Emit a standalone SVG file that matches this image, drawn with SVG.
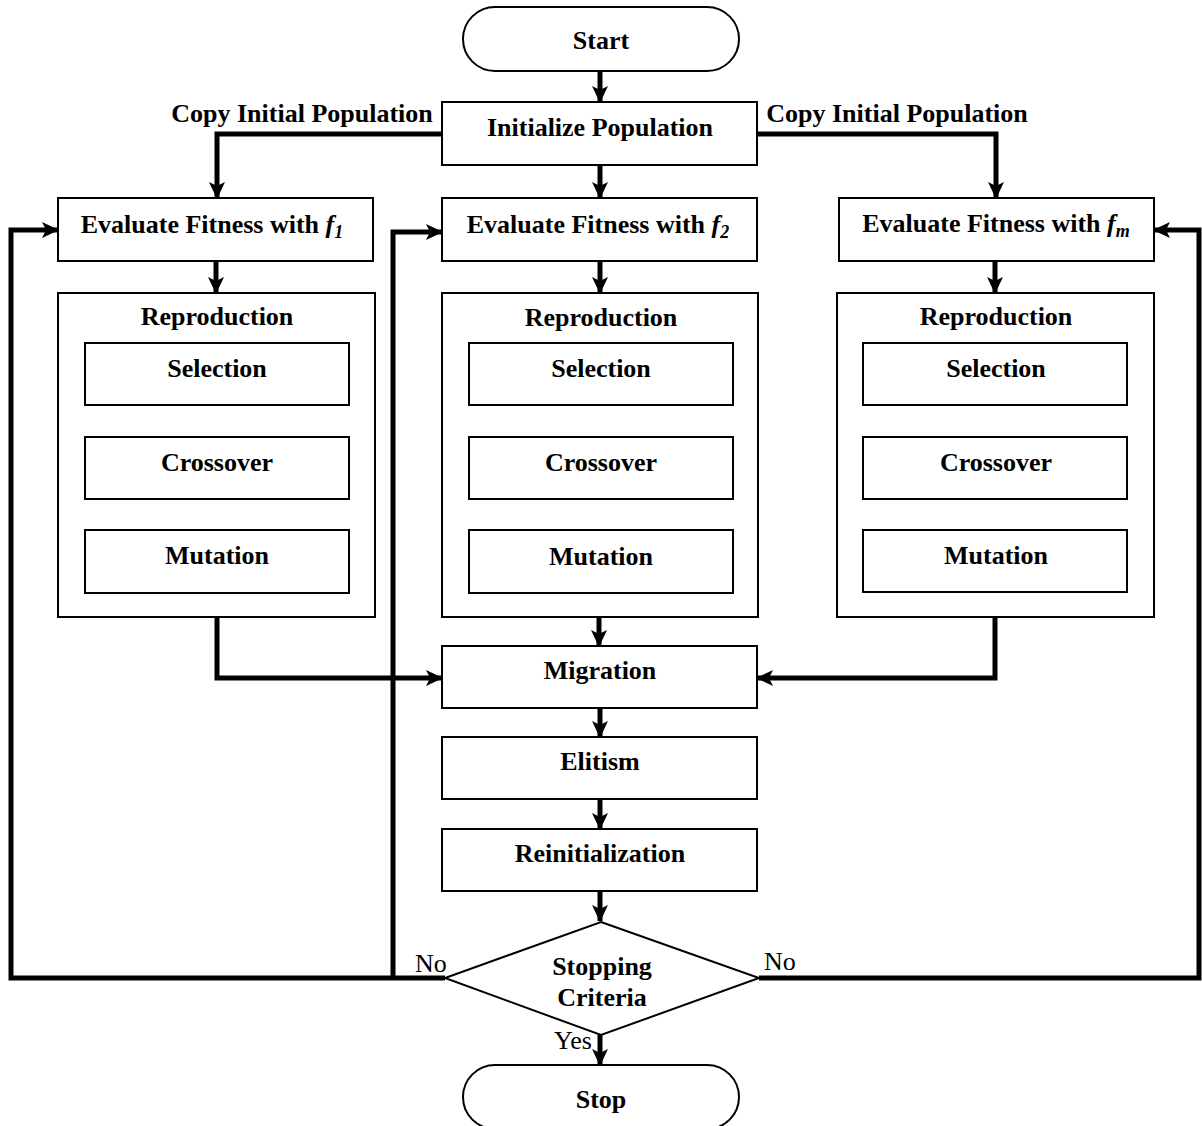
<svg xmlns="http://www.w3.org/2000/svg" width="1202" height="1126" viewBox="0 0 1202 1126">
<defs>
<style>
.box{fill:#fff;stroke:#000;stroke-width:2}
.t{font-family:"Liberation Serif","Times New Roman",serif;font-weight:bold;font-size:26px;text-anchor:middle;fill:#000}
.lbl{font-family:"Liberation Serif","Times New Roman",serif;font-size:26px;fill:#000}
.ca{fill:none;stroke:#000;stroke-width:5;marker-end:url(#ah)}
.it{font-style:italic}
</style>
<marker id="ah" markerUnits="userSpaceOnUse" markerWidth="18" markerHeight="16" refX="16" refY="8" orient="auto">
<path d="M0,0 L17,8 L0,16 L4,8 z" fill="#000"/>
</marker>
</defs>
<rect width="1202" height="1126" fill="#fff"/>

<g id="connectors">
<path class="ca" d="M600,71 V102"/>
<path class="ca" d="M600,165 V198"/>
<path class="ca" d="M443,134 H217 V198"/>
<path class="ca" d="M757,134 H996 V198"/>
<path class="ca" d="M216,261 V293"/>
<path class="ca" d="M600,261 V293"/>
<path class="ca" d="M995,261 V293"/>
<path class="ca" d="M216,405 V437"/>
<path class="ca" d="M216,499 V530"/>
<path class="ca" d="M600,405 V437"/>
<path class="ca" d="M600,499 V530"/>
<path class="ca" d="M995,405 V437"/>
<path class="ca" d="M995,499 V530"/>
<path class="ca" d="M217,593 V678 H442"/>
<path class="ca" d="M995,593 V678 H757"/>
<path class="ca" d="M599,593 V646"/>
<path class="ca" d="M600,708 V737"/>
<path class="ca" d="M600,799 V829"/>
<path class="ca" d="M600,891 V921"/>
<path class="ca" d="M600,1035 V1065"/>
<path class="ca" d="M445,978 H11 V230 H58"/>
<path class="ca" d="M393,978 V232 H442"/>
<path class="ca" d="M759,978 H1199 V230 H1154"/>
</g>

<g id="start">
<rect class="box" x="463" y="7" width="276" height="64" rx="32" ry="32"/>
<text class="t" x="601" y="49">Start</text>
</g>
<g id="init">
<rect class="box" x="442" y="102" width="315" height="63"/>
<text class="t" x="600" y="136">Initialize Population</text>
</g>
<g id="copy-left">
<text class="t" x="302" y="122">Copy Initial Population</text>
</g>
<g id="copy-right">
<text class="t" x="897" y="122">Copy Initial Population</text>
</g>

<g id="eval1">
<rect class="box" x="58" y="198" width="315" height="63"/>
<text class="t" x="212" y="233">Evaluate Fitness with <tspan class="it">f</tspan><tspan class="it" font-size="18" dy="5">1</tspan></text>
</g>
<g id="eval2">
<rect class="box" x="442" y="198" width="315" height="63"/>
<text class="t" x="598" y="233">Evaluate Fitness with <tspan class="it">f</tspan><tspan class="it" font-size="18" dy="5">2</tspan></text>
</g>
<g id="evalm">
<rect class="box" x="839" y="198" width="315" height="63"/>
<text class="t" x="996" y="232">Evaluate Fitness with <tspan class="it">f</tspan><tspan class="it" font-size="18" dy="5">m</tspan></text>
</g>

<g id="repro1">
<rect class="box" x="58" y="293" width="317" height="324"/>
<text class="t" x="217" y="325">Reproduction</text>
</g>
<g id="sel1"><rect class="box" x="85" y="343" width="264" height="62"/><text class="t" x="217" y="377">Selection</text></g>
<g id="cross1"><rect class="box" x="85" y="437" width="264" height="62"/><text class="t" x="217" y="471">Crossover</text></g>
<g id="mut1"><rect class="box" x="85" y="530" width="264" height="63"/><text class="t" x="217" y="564">Mutation</text></g>

<g id="repro2">
<rect class="box" x="442" y="293" width="316" height="324"/>
<text class="t" x="601" y="326">Reproduction</text>
</g>
<g id="sel2"><rect class="box" x="469" y="343" width="264" height="62"/><text class="t" x="601" y="377">Selection</text></g>
<g id="cross2"><rect class="box" x="469" y="437" width="264" height="62"/><text class="t" x="601" y="471">Crossover</text></g>
<g id="mut2"><rect class="box" x="469" y="530" width="264" height="63"/><text class="t" x="601" y="565">Mutation</text></g>

<g id="reprom">
<rect class="box" x="837" y="293" width="317" height="324"/>
<text class="t" x="996" y="325">Reproduction</text>
</g>
<g id="selm"><rect class="box" x="863" y="343" width="264" height="62"/><text class="t" x="996" y="377">Selection</text></g>
<g id="crossm"><rect class="box" x="863" y="437" width="264" height="62"/><text class="t" x="996" y="471">Crossover</text></g>
<g id="mutm"><rect class="box" x="863" y="530" width="264" height="62"/><text class="t" x="996" y="564">Mutation</text></g>

<g id="migration"><rect class="box" x="442" y="646" width="315" height="62"/><text class="t" x="600" y="679">Migration</text></g>
<g id="elitism"><rect class="box" x="442" y="737" width="315" height="62"/><text class="t" x="600" y="770">Elitism</text></g>
<g id="reinit"><rect class="box" x="442" y="829" width="315" height="62"/><text class="t" x="600" y="862">Reinitialization</text></g>

<g id="decision">
<polygon class="box" points="601,922 759,978 601,1035 445,978"/>
<text class="t" x="602" y="975">Stopping</text>
<text class="t" x="602" y="1006">Criteria</text>
</g>
<g id="labels">
<text class="lbl" x="415" y="972">No</text>
<text class="lbl" x="764" y="970">No</text>
<text class="lbl" x="554" y="1049">Yes</text>
</g>
<g id="stop">
<rect class="box" x="463" y="1065" width="276" height="64" rx="32" ry="32"/>
<text class="t" x="601" y="1108">Stop</text>
</g>
</svg>
